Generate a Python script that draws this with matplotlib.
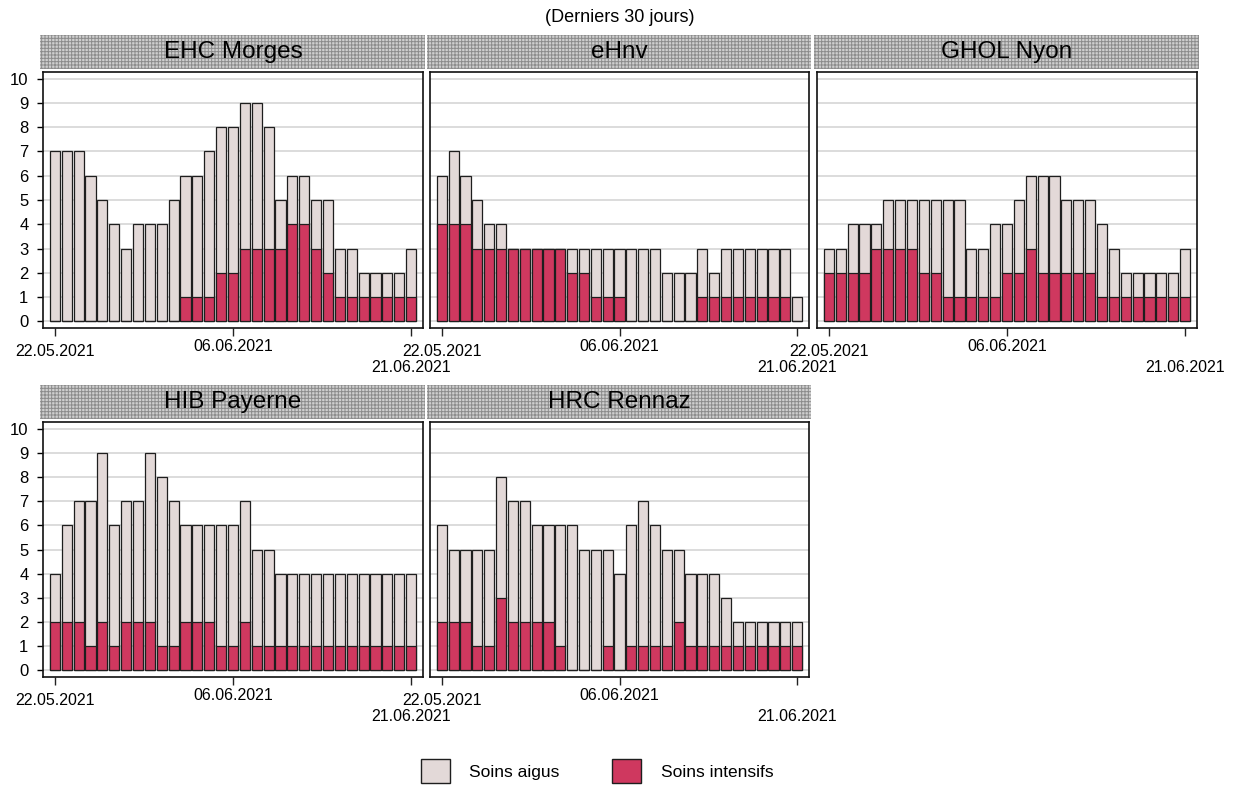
import matplotlib
matplotlib.use('Agg')
import matplotlib.pyplot as plt
from matplotlib.patches import Patch, Rectangle
import numpy as np

plt.rcParams['font.family'] = ['Liberation Sans', 'DejaVu Sans']
plt.rcParams['hatch.linewidth'] = 0.7

# hospital names (panel titles)
hospitals = ['EHC Morges', 'eHnv', 'GHOL Nyon', 'HIB Payerne', 'HRC Rennaz']

# 31 days: 22.05.2021 .. 21.06.2021
tick_days = [0, 15, 30]
tick_labels = ['22.05.2021', '06.06.2021', '21.06.2021']

# total patients (soins aigus incl. intensifs) and soins intensifs per day
ehc_total = [7, 7, 7, 6, 5, 4, 3, 4, 4, 4, 5, 6, 6, 7, 8, 8, 9, 9, 8, 5, 6, 6, 5, 5, 3, 3, 2, 2, 2, 2, 3]
ehc_intens = [0, 0, 0, 0, 0, 0, 0, 0, 0, 0, 0, 1, 1, 1, 2, 2, 3, 3, 3, 3, 4, 4, 3, 2, 1, 1, 1, 1, 1, 1, 1]

ehnv_total = [6, 7, 6, 5, 4, 4, 3, 3, 3, 3, 3, 3, 3, 3, 3, 3, 3, 3, 3, 2, 2, 2, 3, 2, 3, 3, 3, 3, 3, 3, 1]
ehnv_intens = [4, 4, 4, 3, 3, 3, 3, 3, 3, 3, 3, 2, 2, 1, 1, 1, 0, 0, 0, 0, 0, 0, 1, 1, 1, 1, 1, 1, 1, 1, 0]

ghol_total = [3, 3, 4, 4, 4, 5, 5, 5, 5, 5, 5, 5, 3, 3, 4, 4, 5, 6, 6, 6, 5, 5, 5, 4, 3, 2, 2, 2, 2, 2, 3]
ghol_intens = [2, 2, 2, 2, 3, 3, 3, 3, 2, 2, 1, 1, 1, 1, 1, 2, 2, 3, 2, 2, 2, 2, 2, 1, 1, 1, 1, 1, 1, 1, 1]

hib_total = [4, 6, 7, 7, 9, 6, 7, 7, 9, 8, 7, 6, 6, 6, 6, 6, 7, 5, 5, 4, 4, 4, 4, 4, 4, 4, 4, 4, 4, 4, 4]
hib_intens = [2, 2, 2, 1, 2, 1, 2, 2, 2, 1, 1, 2, 2, 2, 1, 1, 2, 1, 1, 1, 1, 1, 1, 1, 1, 1, 1, 1, 1, 1, 1]

hrc_total = [6, 5, 5, 5, 5, 8, 7, 7, 6, 6, 6, 6, 5, 5, 5, 4, 6, 7, 6, 5, 5, 4, 4, 4, 3, 2, 2, 2, 2, 2, 2]
hrc_intens = [2, 2, 2, 1, 1, 3, 2, 2, 2, 2, 1, 0, 0, 0, 1, 0, 1, 1, 1, 1, 2, 1, 1, 1, 1, 1, 1, 1, 1, 1, 1]

totals = [ehc_total, ehnv_total, ghol_total, hib_total, hrc_total]
intens = [ehc_intens, ehnv_intens, ghol_intens, hib_intens, hrc_intens]

c_aigus = '#e3d9d8'
c_intens = '#cf385f'
c_edge = '#1e1e1e'

W, H = 1236, 785
fig = plt.figure(figsize=(W / 100, H / 100), dpi=100)

# panel frames in pixels (left, top, right, bottom)
frames = [(43, 72, 423, 328), (430, 72, 809, 328), (817, 72, 1197, 328),
          (43, 422, 423, 677), (430, 422, 809, 677)]

for i, name in enumerate(hospitals):
    l, t, r, b = frames[i]
    ax = fig.add_axes([l / W, 1 - b / H, (r - l) / W, (b - t) / H])
    days = np.arange(len(totals[i]))
    ax.bar(days, totals[i], width=0.86, color=c_aigus, edgecolor=c_edge, linewidth=0.9, zorder=2)
    ax.bar(days, intens[i], width=0.86, color=c_intens, edgecolor=c_edge, linewidth=0.9, zorder=3)

    ax.set_xlim(-1, 31)
    ax.set_ylim(-0.27, 10.27)
    ax.set_yticks(range(11))
    ax.yaxis.grid(True, color='#dcdcdc', linewidth=1.4)
    ax.set_axisbelow(True)

    ax.set_xticks(tick_days, tick_labels)
    ax.tick_params(axis='x', length=6, width=1, labelsize=11.5, color='#222222')
    xt = ax.xaxis.get_major_ticks()
    xt[0].set_pad(5.5)
    xt[1].set_pad(2)
    xt[2].set_pad(17)

    if i in (0, 3):
        ax.tick_params(axis='y', length=4.5, width=1, labelsize=12, pad=6)
    else:
        ax.tick_params(axis='y', left=False, labelleft=False)

    for s in ax.spines.values():
        s.set_linewidth(1.2)
        s.set_color('#111111')

    # header strip above each panel
    hdr = Rectangle(((l - 3) / W, 1 - (t - 3) / H), (r - l + 5) / W, 34 / H,
                    transform=fig.transFigure, facecolor='#cfcfcf', edgecolor='#8c8c8c',
                    hatch='+++++', linewidth=0)
    fig.add_artist(hdr)
    fig.text((l + r) / 2 / W, 1 - (t - 20) / H, name, ha='center', va='center', fontsize=17.5)

fig.text(620 / W, 1 - 17 / H, '(Derniers 30 jours)', ha='center', va='center', fontsize=13)

handles = [Patch(facecolor=c_aigus, edgecolor=c_edge, label='Soins aigus'),
           Patch(facecolor=c_intens, edgecolor=c_edge, label='Soins intensifs')]
fig.legend(handles=handles, loc='center', bbox_to_anchor=(597 / W, 1 - 771 / H), ncol=2,
           frameon=False, fontsize=12.5, handlelength=1.7, handleheight=1.7,
           handletextpad=1.1, columnspacing=3.0)

fig.savefig('out.png', dpi=100)
